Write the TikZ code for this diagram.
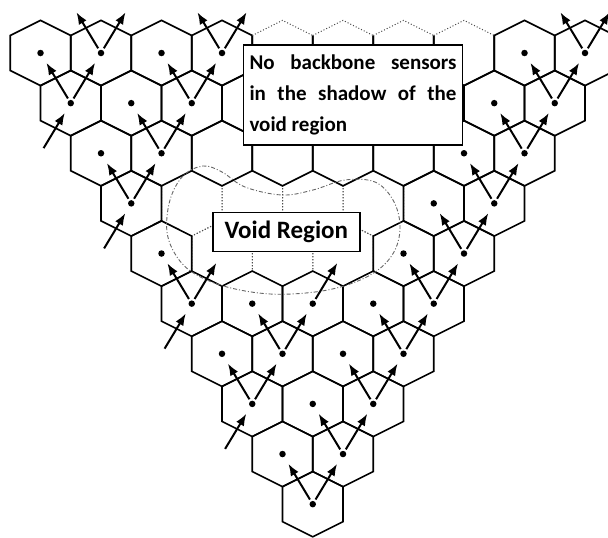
\documentclass[tikz,border=0pt]{standalone}
\usepackage{fontspec}
\setmainfont{Carlito}
\usetikzlibrary{arrows.meta}
\begin{document}
\begin{tikzpicture}[x=1pt,y=-1pt,
  hexsolid/.style={line width=1.6pt, line join=miter},
  hexvoid/.style={line width=1pt, dotted, black!70},
  voidline/.style={line width=0.9pt, black!60, dash pattern=on 4pt off 2pt on 1pt off 2pt},
  sensor/.style={circle, fill=black, inner sep=0pt, minimum size=6.5pt},
  bb/.style={line width=2pt, -{Latex[length=12pt,width=9pt]}},
  bbdd/.style={bb, shorten <=2pt, shorten >=8pt},
  bbdc/.style={bb, shorten <=2pt, shorten >=11pt},
  bbcd/.style={bb, shorten <=6pt, shorten >=8pt},
  lbl/.style={draw, line width=1.4pt, fill=white, inner ysep=0pt}]
\useasboundingbox (0,0) rectangle (608,538);
\clip (0,0) rectangle (608,538);
% void hexes (dotted), first pass
\foreach \r in {0,...,9}{
  \pgfmathtruncatemacro\kmax{9-\r}
  \foreach \k in {0,...,\kmax}{
    \pgfmathsetmacro\cx{40.5+30.25*\r+60.5*\k}
    \pgfmathsetmacro\cy{53+50.13*\r}
    \pgfmathtruncatemacro\isv{((\r==3)&&(\k>=1)&&(\k<=4))||((\r==4)&&(\k>=1)&&(\k<=3))}
    \ifnum\isv=1
      \draw[hexvoid] (\cx,\cy) +(0,-32.63) -- +(30.25,-17.5) -- +(30.25,17.5) -- +(0,32.63) -- +(-30.25,17.5) -- +(-30.25,-17.5) -- cycle;
    \fi
  }
}
% solid hexes, second pass
\foreach \r in {0,...,9}{
  \pgfmathtruncatemacro\kmax{9-\r}
  \foreach \k in {0,...,\kmax}{
    \pgfmathsetmacro\cx{40.5+30.25*\r+60.5*\k}
    \pgfmathsetmacro\cy{53+50.13*\r}
    \pgfmathtruncatemacro\isv{((\r==3)&&(\k>=1)&&(\k<=4))||((\r==4)&&(\k>=1)&&(\k<=3))}
    \pgfmathtruncatemacro\istop{(\r==0)&&(\k>=4)&&(\k<=7)}
    \ifnum\isv=0
      \ifnum\istop=1
        \draw[hexsolid] (\cx,\cy) +(30.25,-17.5) -- +(30.25,17.5) -- +(0,32.63) -- +(-30.25,17.5) -- +(-30.25,-17.5);
        \draw[hexvoid] (\cx,\cy) +(-30.25,-17.5) -- +(0,-32.63) -- +(30.25,-17.5);
      \else
        \draw[hexsolid] (\cx,\cy) +(0,-32.63) -- +(30.25,-17.5) -- +(30.25,17.5) -- +(0,32.63) -- +(-30.25,17.5) -- +(-30.25,-17.5) -- cycle;
      \fi
    \fi
  }
}
% void region outline
\draw[voidline] plot[smooth cycle, tension=0.6] coordinates {
  (203,166) (183,176) (170,200) (167,232) (177,257) (195,274) (227,287)
  (270,294) (315,292) (350,284) (378,270) (395,250) (400,225) (393,200)
  (375,182) (345,180) (313,190) (282,195) (245,187) (222,172)};
% sensors
\foreach \r/\k in {0/0,0/1,0/2,0/3,0/8,0/9,
  1/0,1/1,1/2,1/7,1/8,
  2/0,2/1,2/6,2/7,
  3/0,3/5,3/6,
  4/0,4/4,4/5,
  5/0,5/1,5/2,5/3,5/4,
  6/0,6/1,6/2,6/3,
  7/0,7/1,7/2,
  8/0,8/1,
  9/0}{
  \node[sensor] (s\r-\k) at ({40.5+30.25*\r+60.5*\k},{53+50.13*\r}) {};
}
% free ends
\coordinate (o2) at (40.5,153.26);
\coordinate (o4) at (101,253.52);
\coordinate (o6) at (161.5,353.78);
\coordinate (o8) at (222,454.04);
\coordinate (v41) at (222,253.52);
\coordinate (v43) at (343,253.52);
\coordinate (t1) at (70.75,2.87);
\coordinate (t2) at (131.25,2.87);
\coordinate (t3) at (191.75,2.87);
\coordinate (t4) at (252.25,2.87);
\coordinate (t9) at (554.75,2.87);
\coordinate (t10) at (615.25,2.87);
% backbone arrows
\foreach \a/\b in {9-0/8-0, 9-0/8-1, 8-1/7-1, 8-1/7-2, 7-2/6-2, 7-2/6-3,
  7-0/6-0, 7-0/6-1, 6-3/5-3, 6-3/5-4, 6-1/5-1, 6-1/5-2, 5-4/4-4, 5-4/4-5,
  5-0/4-0, 4-5/3-5, 4-5/3-6, 3-6/2-6, 3-6/2-7, 3-0/2-0, 3-0/2-1,
  2-7/1-7, 2-7/1-8, 2-1/1-1, 2-1/1-2, 1-8/0-8, 1-8/0-9, 1-2/0-2, 1-2/0-3,
  1-0/0-0, 1-0/0-1}{
  \draw[bbdd] (s\a) -- (s\b);
}
\foreach \a/\b in {5-2/v43, 5-0/v41, 0-1/t1, 0-1/t2, 0-3/t3, 0-3/t4, 0-9/t9, 0-9/t10}{
  \draw[bbdc] (s\a) -- (\b);
}
\foreach \a/\b in {o2/1-0, o4/3-0, o6/5-0, o8/7-0}{
  \draw[bbcd] (\a) -- (s\b);
}
% labels
\node[lbl, text width=207pt, align=justify, inner xsep=6pt, minimum height=100pt,
  font=\bfseries\fontsize{21}{30.75}\selectfont] (shadowlbl) at (353,95)
  {No backbone sensors\linebreak in the shadow of the\linebreak void region};
\node[lbl, inner xsep=6pt, minimum width=147pt, minimum height=39pt,
  font=\bfseries\fontsize{25}{30}\selectfont] (voidlbl) at (286.3,232.2) {Void Region};
\end{tikzpicture}
\end{document}
